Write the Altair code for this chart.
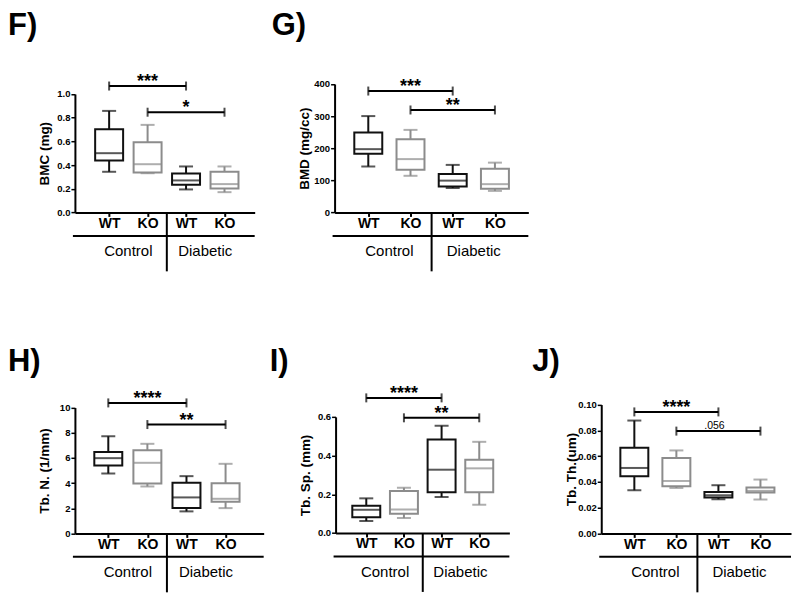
import altair as alt
import pandas as pd

# ---------------- data ----------------
groups = ["Control WT", "Control KO", "Diabetic WT", "Diabetic KO"]
positions = [1, 2, 3, 4]
box_colors = ["#111111", "#8c8c8c", "#111111", "#8c8c8c"]
group_names = ["Control", "Diabetic"]
group_centers = [1.5, 3.5]

# F) BMC (mg)
f_lo = [0.343, 0.331, 0.194, 0.171]
f_q1 = [0.438, 0.336, 0.233, 0.202]
f_med = [0.500, 0.407, 0.270, 0.239]
f_q3 = [0.702, 0.593, 0.329, 0.343]
f_hi = [0.857, 0.739, 0.388, 0.388]
f_sig = [(1, 3, 1.067, "***"), (2, 4, 0.846, "*")]

# G) BMD (mg/cc)
g_lo = [143, 114, 76, 67]
g_q1 = [183, 133, 81, 74]
g_med = [197, 166, 99, 88]
g_q3 = [249, 228, 120, 136]
g_hi = [300, 257, 148, 155]
g_sig = [(1, 3, 378, "***"), (2, 4, 319, "**")]

# H) Tb. N. (1/mm)
h_lo = [4.76, 3.73, 1.75, 2.01]
h_q1 = [5.40, 3.97, 2.01, 2.51]
h_med = [5.98, 5.61, 2.86, 2.75]
h_q3 = [6.46, 6.61, 4.02, 3.99]
h_hi = [7.72, 7.12, 4.55, 5.53]
h_sig = [(1, 3, 10.37, "****"), (2, 4, 8.65, "**")]

# I) Tb. Sp. (mm)
i_lo = [0.062, 0.077, 0.186, 0.146]
i_q1 = [0.081, 0.100, 0.211, 0.210]
i_med = [0.120, 0.122, 0.327, 0.334]
i_q3 = [0.141, 0.217, 0.483, 0.378]
i_hi = [0.179, 0.234, 0.554, 0.471]
i_sig = [(1, 3, 0.698, "****"), (2, 4, 0.595, "**")]

# J) Tb. Th.(um)
j_lo = [0.0335, 0.0353, 0.0265, 0.0263]
j_q1 = [0.0443, 0.0366, 0.0278, 0.0317]
j_med = [0.0508, 0.0407, 0.0296, 0.0330]
j_q3 = [0.0665, 0.0585, 0.0322, 0.0356]
j_hi = [0.0876, 0.0644, 0.0374, 0.0418]
j_sig = [(1, 3, 0.0943, "****"), (2, 4, 0.0794, ".056")]

FONT = "Liberation Sans"

panels = [
    dict(letter="F)", title="BMC (mg)", lo=f_lo, q1=f_q1, med=f_med, q3=f_q3, hi=f_hi, sig=f_sig,
         ydom=[0, 1.0], yvals=[0, 0.2, 0.4, 0.6, 0.8, 1.0], yfmt=".1f",
         w=262, h=292, x0=67, x1=247, xdom=[0.240, 4.655], ybot=201.3, ytop=82.7, lx=0, ly=24),
    dict(letter="G)", title="BMD (mg/cc)", lo=g_lo, q1=g_q1, med=g_med, q3=g_q3, hi=g_hi, sig=g_sig,
         ydom=[0, 400], yvals=[0, 100, 200, 300, 400], yfmt="d",
         w=260, h=292, x0=65, x1=259, xdom=[0.320, 4.673], ybot=201.3, ytop=72.7, lx=2, ly=24),
    None,
    dict(letter="H)", title="Tb. N. (1/mm)", lo=h_lo, q1=h_q1, med=h_med, q3=h_q3, hi=h_hi, sig=h_sig,
         ydom=[0, 10], yvals=[0, 2, 4, 6, 8, 10], yfmt="d",
         w=262, h=289, x0=67, x1=256, xdom=[0.274, 4.847], ybot=230.7, ytop=104.7, lx=0, ly=68),
    dict(letter="I)", title="Tb. Sp. (mm)", lo=i_lo, q1=i_q1, med=i_med, q3=i_q3, hi=i_hi, sig=i_sig,
         ydom=[0, 0.6], yvals=[0, 0.2, 0.4, 0.6], yfmt=".1f",
         w=260, h=289, x0=66, x1=240, xdom=[0.3175, 4.667], ybot=230.3, ytop=114, lx=0, ly=68),
    dict(letter="J)", title="Tb. Th.(um)", lo=j_lo, q1=j_q1, med=j_med, q3=j_q3, hi=j_hi, sig=j_sig,
         ydom=[0, 0.10], yvals=[0, 0.02, 0.04, 0.06, 0.08, 0.10], yfmt=".2f",
         w=262, h=289, x0=72, x1=262, xdom=[0.3315, 4.608], ybot=230.7, ytop=101.7, lx=3, ly=68),
]

BOXW = 28
CAPW = 14
SW = 2


def make_panel(p):
    df = pd.DataFrame(dict(pos=positions, grp=groups, lo=p["lo"], q1=p["q1"], med=p["med"],
                           q3=p["q3"], hi=p["hi"], color=box_colors))
    xscale = alt.Scale(domain=p["xdom"], range=[p["x0"], p["x1"]], nice=False, zero=False)
    yscale = alt.Scale(domain=p["ydom"], range=[p["ybot"], p["ytop"]], nice=False, zero=False)
    xaxis = alt.Axis(values=positions, labelExpr="datum.value % 2 == 1 ? 'WT' : 'KO'",
                     offset=p["ybot"] - p["h"], domainColor="black", domainWidth=SW,
                     tickColor="black", tickWidth=SW, tickSize=4, labelFont=FONT,
                     labelFontSize=14, labelFontWeight="bold", labelColor="black",
                     labelPadding=0, labelFlush=False, labelOverlap=False, grid=False, title=None)
    yaxis = alt.Axis(values=p["yvals"], format=p["yfmt"], offset=-p["x0"], domainColor="black",
                     domainWidth=SW, tickColor="black", tickWidth=1.5, tickSize=4, labelFont=FONT,
                     labelFontSize=9.5, labelFontWeight="bold", labelColor="black", labelPadding=1,
                     labelFlush=False, labelOverlap=False, grid=False, title=p["title"],
                     titleFont=FONT, titleFontSize=13.5, titleFontWeight="bold", titleColor="black",
                     titleX=-30, titleBaseline="middle")

    def X(field):
        return alt.X(field, type="quantitative", scale=xscale, axis=xaxis)

    def Y(field):
        return alt.Y(field, type="quantitative", scale=yscale, axis=yaxis)

    col = alt.Color("color:N", scale=None)
    base = alt.Chart(df)
    whisk = base.mark_rule(strokeWidth=SW).encode(x=X("pos"), y=Y("lo"), y2="hi:Q", color=col)
    box = base.mark_bar(size=BOXW, fill="white", strokeWidth=SW).encode(
        x=X("pos"), y=Y("q1"), y2="q3:Q", stroke=alt.Stroke("color:N", scale=None))
    med = base.mark_tick(orient="horizontal", size=BOXW, thickness=SW).encode(
        x=X("pos"), y=Y("med"), color=col)
    cap_lo = base.mark_tick(orient="horizontal", size=CAPW, thickness=SW).encode(
        x=X("pos"), y=Y("lo"), color=col)
    cap_hi = base.mark_tick(orient="horizontal", size=CAPW, thickness=SW).encode(
        x=X("pos"), y=Y("hi"), color=col)

    sig = pd.DataFrame(p["sig"], columns=["a", "b", "y", "label"])
    sig["mid"] = (sig["a"] + sig["b"]) / 2
    sb = alt.Chart(sig)
    brule = sb.mark_rule(strokeWidth=SW, color="black").encode(x=X("a"), x2="b:Q", y=Y("y"))
    bcap_a = sb.mark_tick(orient="vertical", size=9, thickness=SW, color="black").encode(
        x=X("a"), y=Y("y"))
    bcap_b = sb.mark_tick(orient="vertical", size=9, thickness=SW, color="black").encode(
        x=X("b"), y=Y("y"))
    stars = sb.transform_filter("indexof(datum.label, '*') >= 0").mark_text(
        font=FONT, fontSize=18, fontWeight="bold", color="black", fill="black",
        baseline="alphabetic", dy=1
    ).encode(x=X("mid"), y=Y("y"), text="label:N")
    pval = sb.transform_filter("indexof(datum.label, '*') < 0").mark_text(
        font=FONT, fontSize=10.5, color="black", fill="black", baseline="alphabetic", dy=-2, dx=-4
    ).encode(x=X("mid"), y=Y("y"), text="label:N")

    gdf = pd.DataFrame(dict(name=group_names, center=group_centers))
    gb = alt.Chart(gdf)
    gtext = gb.mark_text(font=FONT, fontSize=15, color="black", fill="black", baseline="middle").encode(
        x=X("center"), y=alt.value(p["ybot"] + 39), text="name:N")
    divider = gb.transform_aggregate(c="mean(center)").mark_rule(strokeWidth=SW, color="black").encode(
        x=X("c"), y=alt.value(p["ybot"]), y2=alt.value(p["ybot"] + 59))
    gline = gb.transform_aggregate(n="count()").mark_rule(strokeWidth=SW, color="black").encode(
        x=alt.value(p["x0"] - 2), x2=alt.value(p["x1"]), y=alt.value(p["ybot"] + 23.5))
    letter = gb.transform_aggregate(n="count()").mark_text(
        font=FONT, fontSize=31, fontWeight="bold", color="black", fill="black", align="left",
        baseline="alphabetic"
    ).encode(x=alt.value(p["lx"]), y=alt.value(p["ly"]), text=alt.value(p["letter"]))

    return alt.layer(whisk, box, med, cap_lo, cap_hi, brule, bcap_a, bcap_b, stars, pval,
                     gline, divider, gtext, letter).properties(width=p["w"], height=p["h"])


charts = []
for p in panels:
    if p is None:
        charts.append(alt.Chart(pd.DataFrame({"d": [0]})).mark_point(opacity=0).encode(
            x=alt.value(0), y=alt.value(0)).properties(width=262, height=292))
    else:
        charts.append(make_panel(p))

chart = alt.concat(*charts, columns=3, spacing=0, bounds="flush", align="each").properties(
    padding={"left": 0, "top": 0, "right": 0, "bottom": 0}
).configure(font=FONT).configure_view(stroke=None)

chart.save("out.html", embed_options={"renderer": "svg", "actions": False})
